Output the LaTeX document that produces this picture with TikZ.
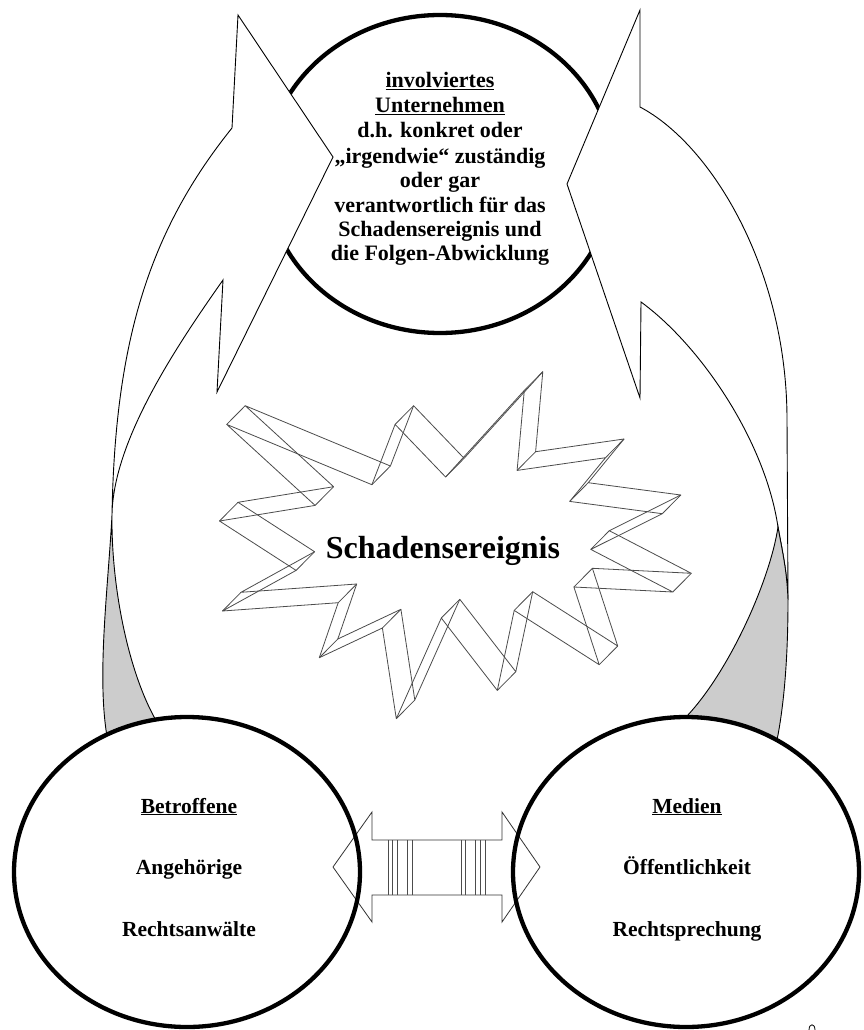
\documentclass[tikz,border=0pt]{standalone}
\usepackage{fontspec}
\setmainfont{Liberation Serif}
\usetikzlibrary{shapes.geometric}
\definecolor{shadegray}{HTML}{CCCCCC}
\begin{document}
\begin{tikzpicture}[x=1pt,y=-1pt,
  outline/.style={draw=black, line width=0.9pt, line join=miter},
  ring/.style={draw=black, line width=4.3pt, ellipse, inner sep=0pt, outer sep=0pt},
  starline/.style={draw=black!70, line width=0.8pt, line join=round},
  lbl/.style={font=\bfseries\fontsize{22}{24}\selectfont, anchor=base, inner sep=0pt},
  sublbl/.style={font=\bfseries\fontsize{21.5}{24}\selectfont, anchor=base, inner sep=0pt},
  biglbl/.style={font=\bfseries\fontsize{32}{36}\selectfont, anchor=base, inner sep=0pt},
  barline/.style={draw=black!70, line width=0.6pt}]
\useasboundingbox (0,0) rectangle (863,1030);
\fill[white] (0,0) rectangle (863,1030);

% top circle
\node[ring, minimum width=348pt, minimum height=318pt] (firm) at (440,174) {};

% left curved arrow
\draw[outline, fill=white] (232,128) -- (238,15) -- (333,157) -- (217,392) -- (223,280)
  .. controls (178,344) and (113,440) .. (112,515)
  .. controls (115,340) and (150,230) .. (232,128) -- cycle;
\draw[outline, fill=shadegray] (112,515) .. controls (108,590) and (96,680) .. (108,742)
  -- (110,760) -- (168,745) -- (160,727)
  .. controls (130,680) and (111,590) .. (112,515) -- cycle;

% right curved arrow
\draw[outline, fill=white] (640,107) -- (640,10) -- (567,184) -- (640,398) -- (641,302)
  .. controls (700,345) and (765,440) .. (778,527)
  .. controls (782,550) and (787,570) .. (788,600) -- (787,420)
  .. controls (787,270) and (712,145) .. (640,107) -- cycle;
\draw[outline, fill=shadegray] (778,527) .. controls (782,550) and (787,570) .. (788,600)
  .. controls (788,650) and (785,700) .. (777,740) -- (775,760) -- (680,740) -- (687,716)
  .. controls (730,670) and (770,580) .. (778,527) -- cycle;

% white interiors of the lower ellipses
\fill[white] (187,872) ellipse [x radius=173, y radius=155];
\fill[white] (686,872) ellipse [x radius=173, y radius=155];

% explosion star (wireframe)
\foreach \i/\x/\y in {1/245.2/405.7, 2/390.4/466, 3/413.6/405.7, 4/464.1/458.3,
  5/542.8/371.7, 6/535.6/451.7, 7/624.0/439, 8/588.2/482.7, 9/680.8/495,
  10/609.3/530.7, 11/691.3/573.3, 12/592.4/568.3, 13/617.7/646, 14/532.7/591.7,
  15/515.8/671.7, 16/459.8/599.3, 17/414.8/700, 18/400.9/609.3, 19/337.8/639,
  20/356.7/584, 21/241.0/592.3, 22/314.6/551.7, 23/238.0/502.3, 24/333.6/486.7} {
  \coordinate (a\i) at (\x,\y);
  \coordinate (b\i) at (\x-18.5,\y+18.7);
}
\draw[starline] (a1) \foreach \i in {2,...,24} {-- (a\i)} -- cycle;
\draw[starline] (b1) \foreach \i in {2,...,24} {-- (b\i)} -- cycle;
\foreach \i in {1,...,24} {\draw[starline] (a\i) -- (b\i);}
\node[biglbl] (event) at (443,558) {Schadensereignis};

% double arrow between the lower ellipses
\draw[draw=black!80, line width=0.8pt, fill=white] (333,867) -- (372,812) -- (372,840) -- (502,840)
  -- (502,812) -- (540,867) -- (502,922) -- (502,895) -- (372,895) -- (372,922) -- cycle;
\foreach \x in {388.3,392.7,397.7,407.3,412.3,461,465.7,475.7,480,485} {
  \draw[barline] (\x,840) -- (\x,895);
}

% lower ellipses
\node[ring, minimum width=346pt, minimum height=310pt] (victims) at (187,872) {};
\node[ring, minimum width=346pt, minimum height=310pt] (media) at (686,872) {};

% texts of the top circle
\node[lbl] (t1) at (440,88) {\underline{involviertes}};
\node[lbl] (t2) at (440,113) {\underline{Unternehmen}};
\node[lbl] (t3) at (440,138) {d.h. konkret oder};
\node[lbl] (t4) at (440,163) {„irgendwie“ zuständig};
\node[lbl] (t5) at (440,187) {oder gar};
\node[lbl] (t6) at (440,212) {verantwortlich für das};
\node[lbl] (t7) at (440,236) {Schadensereignis und};
\node[lbl] (t8) at (440,260) {die Folgen-Abwicklung};

% texts of the lower ellipses
\node[sublbl] (l1) at (189,813) {\underline{Betroffene}};
\node[sublbl] (l2) at (189,874) {Angehörige};
\node[sublbl] (l3) at (189,936) {Rechtsanwälte};
\node[sublbl] (r1) at (687,813) {\underline{Medien}};
\node[sublbl] (r2) at (687,874) {Öffentlichkeit};
\node[sublbl] (r3) at (687,936) {Rechtsprechung};

% small mark at the lower right edge
\draw[line width=0.8pt] (809,1030) .. controls (809,1023) and (815,1023) .. (815,1030);
\end{tikzpicture}
\end{document}
